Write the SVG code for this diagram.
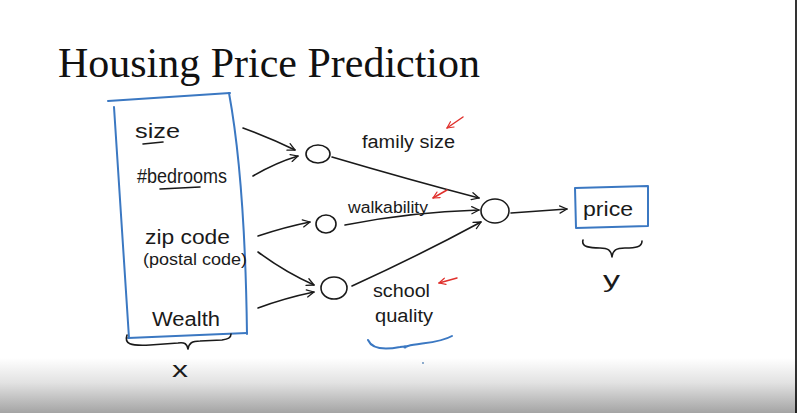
<svg xmlns="http://www.w3.org/2000/svg" width="797" height="413" viewBox="0 0 797 413">
  <defs>
    <linearGradient id="floor" x1="0" y1="0" x2="0" y2="1">
      <stop offset="0" stop-color="#ffffff"/>
      <stop offset="0.45" stop-color="#e2e2e2"/>
      <stop offset="1" stop-color="#a4a4a4"/>
    </linearGradient>
    <marker id="head" viewBox="0 0 10 10" refX="9" refY="5" markerWidth="9" markerHeight="9" markerUnits="userSpaceOnUse" orient="auto">
      <path d="M1,1 L9,5 L1,9" fill="none" stroke="#1a1a1a" stroke-width="1.4" stroke-linecap="round" stroke-linejoin="round"/>
    </marker>
    <marker id="redhead" viewBox="0 0 10 10" refX="9" refY="5" markerWidth="8" markerHeight="8" markerUnits="userSpaceOnUse" orient="auto">
      <path d="M1,1 L9,5 L1,9" fill="none" stroke="#e0302c" stroke-width="1.5" stroke-linecap="round" stroke-linejoin="round"/>
    </marker>
  </defs>
  <style>
    .title { font-family: "Liberation Serif", "Times New Roman", serif; font-size: 42px; fill: #111; }
    .hand { font-family: "Liberation Sans", Arial, sans-serif; fill: #1a1a1a; }
    .ink { fill: none; stroke: #1a1a1a; stroke-width: 1.6; stroke-linecap: round; stroke-linejoin: round; }
    .blue { fill: none; stroke: #3b78c2; stroke-width: 2; stroke-linecap: round; stroke-linejoin: round; }
    .red { fill: none; stroke: #e0302c; stroke-width: 1.5; stroke-linecap: round; }
    .node { fill: none; stroke: #1a1a1a; stroke-width: 1.6; }
  </style>

  <rect x="0" y="0" width="797" height="413" fill="#ffffff"/>
  <rect x="0" y="358" width="797" height="55" fill="url(#floor)"/>
  <line x1="796" y1="0" x2="796" y2="413" stroke="#000" stroke-width="1.6"/>

  <text class="title" x="58" y="77" textLength="422" lengthAdjust="spacingAndGlyphs">Housing Price Prediction</text>

  <!-- input features -->
  <g id="inputs">
    <path class="blue" d="M108,101 L230,93"/>
    <path class="blue" d="M229,93 Q245,180 247,334"/>
    <path class="blue" d="M128,338 L247,333"/>
    <path class="blue" d="M114,107 Q121,220 129,338"/>
    <text class="hand" x="135" y="138" font-size="20" textLength="45" lengthAdjust="spacingAndGlyphs">size</text>
    <path class="ink" d="M143,144 L163,142"/>
    <text class="hand" x="137" y="183" font-size="20" textLength="90" lengthAdjust="spacingAndGlyphs">#bedrooms</text>
    <path class="ink" d="M160,189 L200,187"/>
    <text class="hand" x="145" y="244" font-size="20" textLength="85" lengthAdjust="spacingAndGlyphs">zip code</text>
    <text class="hand" x="143" y="265" font-size="16" textLength="104" lengthAdjust="spacingAndGlyphs">(postal code)</text>
    <text class="hand" x="152" y="326" font-size="20" textLength="68" lengthAdjust="spacingAndGlyphs">Wealth</text>
    <path class="ink" d="M127,335 C124,344 130,346 150,345 L178,343 C185,342 187,344 188,349 C189,343 192,341 200,341 L222,340 C228,339 231,338 231,334"/>
    <text class="hand" x="172" y="377" font-size="22" textLength="16" lengthAdjust="spacingAndGlyphs">x</text>
  </g>

  <!-- hidden units -->
  <g id="family-size">
    <ellipse class="node" cx="318" cy="154" rx="12" ry="9"/>
    <text class="hand" x="362" y="148" font-size="18" textLength="93" lengthAdjust="spacingAndGlyphs">family size</text>
  </g>
  <g id="walkability">
    <ellipse class="node" cx="326" cy="224" rx="10" ry="9"/>
    <text class="hand" x="348" y="213" font-size="16" textLength="80" lengthAdjust="spacingAndGlyphs">walkability</text>
  </g>
  <g id="school-quality">
    <ellipse class="node" cx="334" cy="288" rx="13" ry="11"/>
    <text class="hand" x="373" y="297" font-size="18" textLength="57" lengthAdjust="spacingAndGlyphs">school</text>
    <text class="hand" x="375" y="322" font-size="18" textLength="58" lengthAdjust="spacingAndGlyphs">quality</text>
    <path class="blue" d="M368,340 C372,349 385,350 400,347 C404,346 406,347 408,346 C420,343 440,343 452,336"/>
    <circle cx="405" cy="347" r="1.6" fill="#3b78c2"/>
    <circle cx="423" cy="363" r="0.9" fill="#5a86b8"/>
  </g>

  <!-- output unit -->
  <g id="output">
    <ellipse class="node" cx="495" cy="211" rx="14" ry="12"/>
  </g>

  <g id="price">
    <path class="blue" d="M575,188 L648,186 L648,226 L576,228 Z"/>
    <text class="hand" x="583" y="216" font-size="20" textLength="50" lengthAdjust="spacingAndGlyphs">price</text>
    <path class="ink" d="M583,240 C581,247 590,248 600,248 C608,248 611,250 612,257 C613,250 616,248 625,248 C636,248 642,247 642,241"/>
    <text class="hand" x="603" y="287" font-size="22" textLength="17" lengthAdjust="spacingAndGlyphs">y</text>
  </g>

  <!-- connectors -->
  <g id="connectors">
    <path class="ink" marker-end="url(#head)" d="M243,128 Q270,138 295,150"/>
    <path class="ink" marker-end="url(#head)" d="M253,176 Q275,163 298,156"/>
    <path class="ink" marker-end="url(#head)" d="M258,236 Q285,227 310,222"/>
    <path class="ink" marker-end="url(#head)" d="M258,252 Q285,272 314,285"/>
    <path class="ink" marker-end="url(#head)" d="M258,308 Q285,298 314,292"/>
    <path class="ink" marker-end="url(#head)" d="M332,157 Q410,180 479,198"/>
    <path class="ink" marker-end="url(#head)" d="M345,225 Q410,212 479,210"/>
    <path class="ink" marker-end="url(#head)" d="M352,286 Q420,255 481,222"/>
    <path class="ink" marker-end="url(#head)" d="M511,213 L567,209"/>
    <path class="red" marker-end="url(#redhead)" d="M463,117 L447,128"/>
    <path class="red" marker-end="url(#redhead)" d="M447,190 L433,198"/>
    <path class="red" marker-end="url(#redhead)" d="M457,278 L439,283"/>
  </g>
</svg>
